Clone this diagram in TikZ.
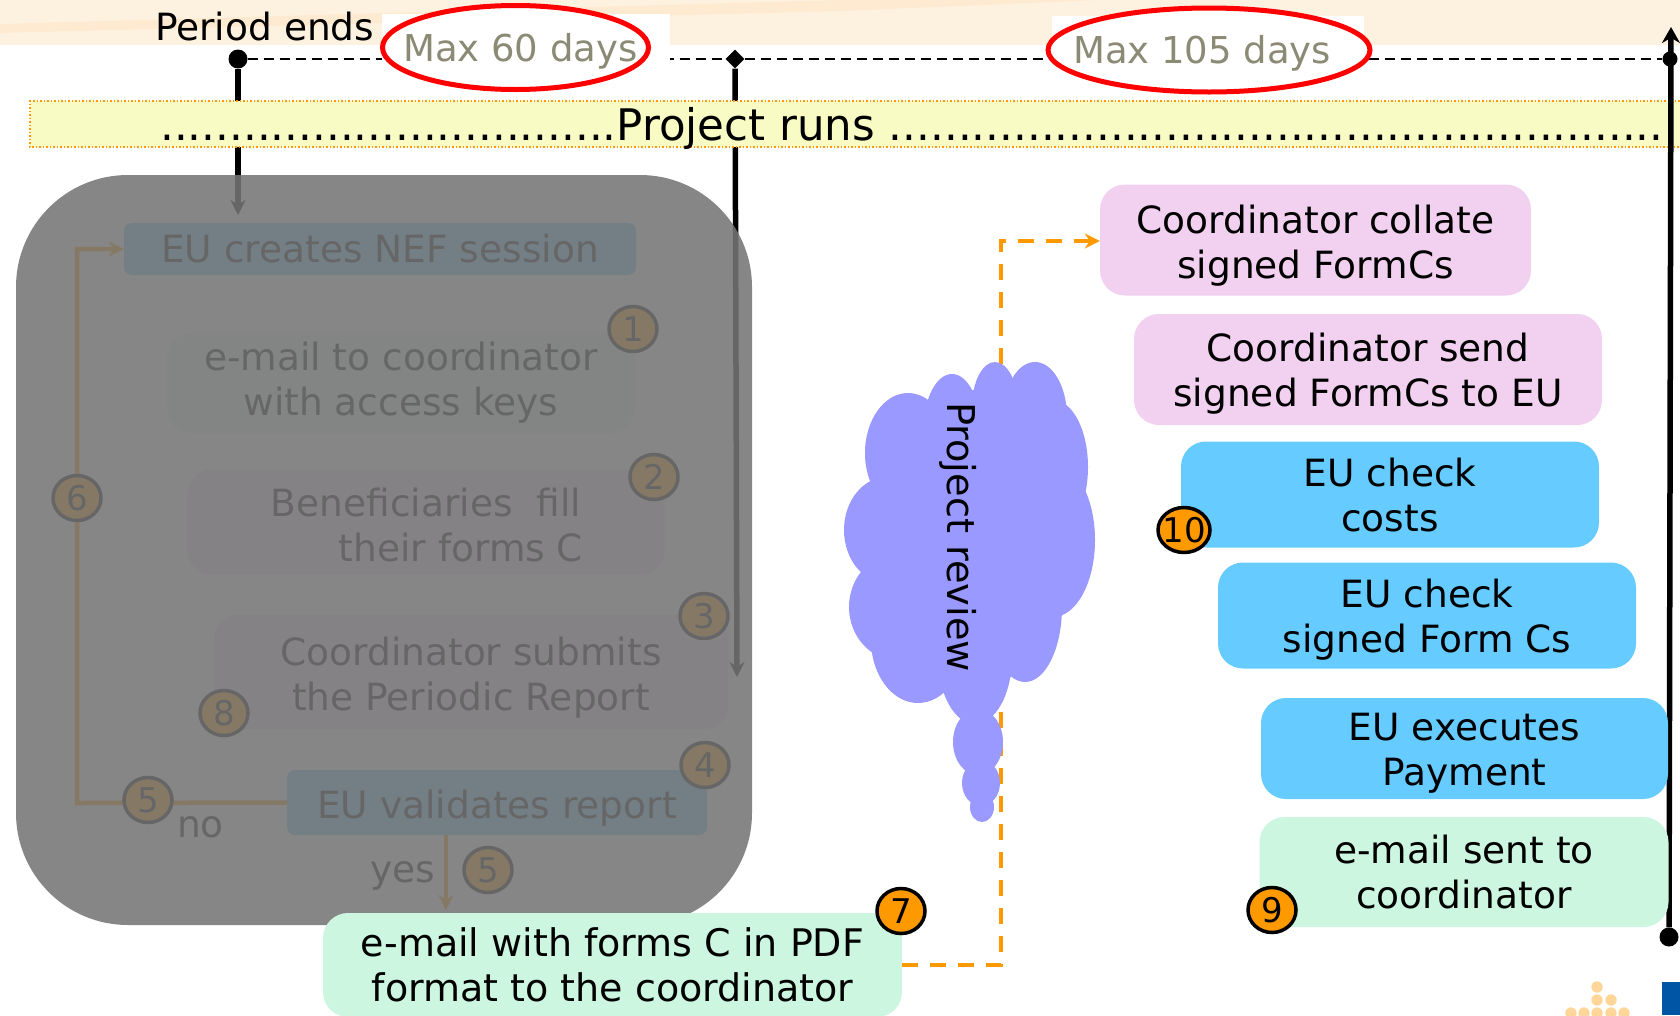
\documentclass[tikz,border=0pt]{standalone}
\usepackage{fontspec}
\setmainfont{DejaVu Sans}
\usetikzlibrary{shapes.geometric,arrows.meta}
\definecolor{bandcol}{HTML}{FDF2E0}
\definecolor{stripecol}{HTML}{FEEAD0}
\definecolor{runcol}{HTML}{F8FBC4}
\definecolor{pinkcol}{HTML}{F2D0F0}
\definecolor{bluecol}{HTML}{66CCFF}
\definecolor{greencol}{HTML}{CCF6E0}
\definecolor{orangecol}{HTML}{FF9900}
\definecolor{maxcol}{HTML}{8B8B75}
\definecolor{cloudcol}{HTML}{9999FF}
\definecolor{logoblue}{HTML}{0055A4}
\definecolor{logodot}{HTML}{FFD699}
\definecolor{shadecol}{HTML}{757575}
\tikzset{drop/.style={execute at begin node={\rule{0pt}{#1}}}}
\begin{document}
\begin{tikzpicture}[x=1pt, y=-1pt]
\tikzstyle{txt}=[font=\fontsize{37.5}{45}\selectfont, inner sep=0pt, align=center]
\tikzstyle{case}=[txt, rectangle, rounded corners=25pt]
\tikzstyle{pinkcase}=[case, fill=pinkcol, minimum height=111pt]
\tikzstyle{bluecase}=[case, fill=bluecol, minimum height=106pt]
\tikzstyle{greencase}=[case, fill=greencol, minimum height=110pt]
\tikzstyle{badge}=[ellipse, draw=black, line width=3.5pt, fill=orangecol, inner sep=0pt,
  minimum width=48pt, minimum height=45pt, font=\fontsize{34}{34}\selectfont]
\tikzstyle{maxring}=[ellipse, draw=red, fill=white, line width=5pt, inner sep=0pt, minimum height=84pt]
\tikzstyle{maxlabel}=[anchor=base west, inner sep=0pt, text=maxcol, font=\fontsize{37}{37}\selectfont]
\tikzstyle{point}=[circle, fill=black, inner sep=0pt, minimum size=19pt]
\tikzstyle{blackline}=[line width=5.5pt, -{Stealth[length=15pt,width=15pt]}]
\tikzstyle{orangeline}=[orangecol, line width=4.5pt, -{Stealth[length=15pt,width=15pt]}]
\useasboundingbox (0,0) rectangle (1680,1015);
\clip (0,0) rectangle (1680,1015);
% background
\fill[bandcol] (0,0) rectangle (1680,45);
\fill[stripecol] (0,24) -- (840,0) -- (1100,0) -- (840,11) -- (0,33) -- cycle;
% time line
\node[point] (m1) at (238,59) {};
\node[diamond, fill=black, inner sep=0pt, minimum size=19pt] (m2) at (735,59) {};
\node[point, minimum size=15pt] (m3) at (1670,59) {};
\node[point] (m4) at (1669,937) {};
\coordinate (a1) at (238,215);
\coordinate (a2) at (737,677);
\coordinate (a3) at (1671,27);
\draw[line width=1.7pt, dash pattern=on 10pt off 6pt] (m1) -- (m2) -- (m3);
\fill[white] (382,14) rectangle (670,70);
\fill[white] (1052,16) rectangle (1364,45);
\node[maxring, minimum width=266pt] (e60) at (515.5,47.5) {};
\node[maxring, minimum width=322pt] (e105) at (1209,50) {};
\node[maxlabel] (t60) at (403,61) {Max 60 days};
\node[maxlabel] (t105) at (1073,63) {Max 105 days};
\node[txt, anchor=base west] (ends) at (155,40) {Period ends};
\draw[blackline] (m1) -- (a1);
\draw[blackline] (m2) -- (a2);
% project runs
\fill[runcol] (30,101) rectangle (1690,147);
\draw[orangecol, line width=1.5pt, dotted] (1690,101) -- (30,101) -- (30,147) -- (1690,147);
\node[anchor=base west, inner sep=0pt, font=\fontsize{43.5}{43.5}\selectfont] (runs) at (160,140)
  {.................................Project runs ........................................................};
\draw[blackline, -{Stealth[length=16pt,width=18pt]}] (m4) -- (a3);
% feedback cycle, under the shade
\node[case, fill=bluecol, minimum width=512pt, minimum height=52pt, rounded corners=8pt] (nef) at (380,249) {EU creates NEF session};
\node[greencase, fill=greencol!55!white, minimum width=468pt, minimum height=100pt] (mail) at (401,383) {e-mail to coordinator\\with access keys};
\node[pinkcase, fill=pinkcol!55!white, minimum width=477pt, minimum height=105pt, drop=80pt] (fill) at (426,522) {Beneficiaries\ \ fill\\\hspace{70pt}their forms C};
\node[pinkcase, fill=pinkcol!55!white, minimum width=514pt, minimum height=115pt, drop=84pt] (sub) at (471,672) {Coordinator submits\\the Periodic Report};
\node[case, fill=bluecol, minimum width=420pt, minimum height=65pt, rounded corners=8pt, drop=39pt] (valid) at (497,802.5) {EU validates report};
\coordinate (c1) at (77,803);
\coordinate (c2) at (77,249);
\coordinate (y1) at (446,910);
\draw[orangeline] (valid.west) -- (c1) -- (c2) -- (nef.west);
\draw[orangeline] (valid.south -| y1) -- (y1);
\node[badge] (b1) at (633,329) {1};
\node[badge] (b2) at (654,477) {2};
\node[badge] (b3) at (704,616) {3};
\node[badge] (b4) at (705,765) {4};
\node[badge] (b5) at (148,800) {5};
\node[badge] (b5y) at (488,870) {5};
\node[badge] (b6) at (77,498) {6};
\node[badge] (b8) at (224,713) {8};
\node[txt, anchor=base west] (no) at (177,837) {no};
\node[txt, anchor=base west] (yes) at (370,882) {yes};
% shade
\fill[shadecol, opacity=0.88, rounded corners=112pt] (16,175) rectangle (752,925);
% right part
\node[greencase, font=\fontsize{38}{45}\selectfont, minimum width=579pt, minimum height=104pt] (pdf) at (612.5,965) {e-mail with forms C in PDF\\format to the coordinator};
\node[badge] (b7) at (901,911) {7};
\node[pinkcase, minimum width=431pt, drop=84pt] (collate) at (1315.5,240) {Coordinator collate\\signed FormCs};
\node[pinkcase, minimum width=468pt, drop=82pt] (send) at (1368,369.5) {Coordinator send\\signed FormCs to EU};
\node[bluecase, minimum width=418pt, drop=75pt] (costs) at (1390,494.5) {EU check\\costs};
\node[bluecase, minimum width=418pt, drop=81pt] (forms) at (1427,615.5) {EU check\\signed Form Cs};
\node[bluecase, minimum width=407pt, minimum height=101pt, drop=82pt] (pay) at (1464.5,748.5) {EU executes\\Payment};
\node[greencase, minimum width=409pt, drop=74pt] (sent) at (1464,872) {e-mail sent to\\coordinator};
\node[badge, minimum width=52pt] (b10) at (1184,530) {\makebox[0pt]{10}};
\node[badge] (b9) at (1272,910) {9};
% review path
\coordinate (r1) at (1001,965);
\coordinate (r2) at (1001,241);
\draw[orangeline, dash pattern=on 16pt off 12pt] (pdf.east |- r1) -- (r1) -- (r2) -- (collate.west |- r2);
% cloud
\foreach \cx/\cy/\rx/\ry in {1035/417/32/55, 995/407/23/45, 952/427/28/53, 908/453/43/60,
  887/530/43/53, 1053/467/35/67, 1053/540/42/77, 1025/607/37/75, 897/607/48/53,
  918/640/47/63, 975/657/37/67, 970/540/100/150, 978/742/25/33, 981/783/19/23, 982/807/12/15}
  \fill[cloudcol] (\cx,\cy) ellipse [x radius=\rx, y radius=\ry];
\node[anchor=base, rotate=-90, inner sep=0pt, font=\fontsize{38.3}{38.3}\selectfont] (review) at (947,537) {Project review};
% logo
\foreach \dx/\dy in {1597/987, 1597/1000, 1611/1000, 1571/1013, 1584/1013, 1597/1013, 1611/1013, 1624/1013}
  \fill[logodot] (\dx,\dy) circle (5.7);
\fill[logoblue] (1662,982) rectangle (1680,1015);
\end{tikzpicture}
\end{document}
